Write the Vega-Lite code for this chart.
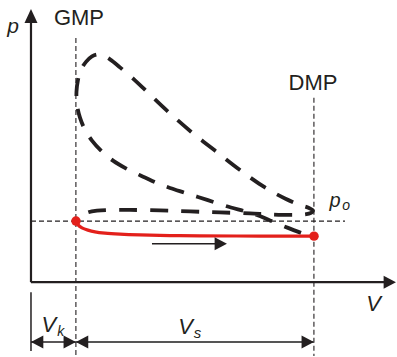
{
  "$schema": "https://vega.github.io/schema/vega-lite/v6.json",
  "width": 397,
  "height": 357,
  "autosize": {"type": "fit", "contains": "padding"},
  "padding": 0,
  "background": "white",
  "config": {"view": {"stroke": null}},
  "encoding": {
    "x": {"field": "V", "type": "quantitative", "scale": {"domain": [-6.9, 81.5], "nice": false, "zero": false}, "axis": null},
    "y": {"field": "p", "type": "quantitative", "scale": {"domain": [-12.07, 46.17], "nice": false, "zero": false}, "axis": null}
  },
  "layer": [
    {
      "description": "thin dashed guides: GMP, DMP and ambient pressure p_o",
      "data": {"values": [
        {"V": 10, "p": 39.97, "V2": 10, "p2": -12.07},
        {"V": 63, "p": 30.18, "V2": 63, "p2": -12.07},
        {"V": 0, "p": 10, "V2": 69.92, "p2": 10}
      ]},
      "mark": {"type": "rule", "color": "#231f20", "strokeWidth": 1.1, "strokeDash": [5, 3]},
      "encoding": {"x2": {"field": "V2"}, "y2": {"field": "p2"}}
    },
    {
      "description": "p and V axes",
      "data": {"values": [
        {"V": 0, "p": 0, "V2": 0, "p2": 42.6},
        {"V": 0, "p": 0, "V2": 78.9, "p2": 0}
      ]},
      "mark": {"type": "rule", "color": "#231f20", "strokeWidth": 2.2},
      "encoding": {"x2": {"field": "V2"}, "y2": {"field": "p2"}}
    },
    {
      "description": "dimension tick, V_k span and flow direction arrow",
      "data": {"values": [
        {"V": 0, "p": -1.63, "V2": 0, "p2": -11.26},
        {"V": 0, "p": -9.79, "V2": 10, "p2": -9.79},
        {"V": 26.94, "p": 6.31, "V2": 41.4, "p2": 6.31}
      ]},
      "mark": {"type": "rule", "color": "#231f20", "strokeWidth": 1.5},
      "encoding": {"x2": {"field": "V2"}, "y2": {"field": "p2"}}
    },
    {
      "description": "V_s span",
      "data": {"values": [
        {"V": 10, "p": -9.79, "V2": 63, "p2": -9.79}
      ]},
      "mark": {"type": "rule", "color": "#555555", "strokeWidth": 2},
      "encoding": {"x2": {"field": "V2"}, "y2": {"field": "p2"}}
    },
    {
      "description": "compression, combustion, expansion and exhaust",
      "data": {"values": [
        {"i": 0, "V": 60.12, "p": 8.07},
        {"i": 1, "V": 57.23, "p": 8.89},
        {"i": 2, "V": 53.22, "p": 10.11},
        {"i": 3, "V": 50.32, "p": 11.01},
        {"i": 4, "V": 47.43, "p": 11.66},
        {"i": 5, "V": 44.53, "p": 12.23},
        {"i": 6, "V": 40.97, "p": 13.05},
        {"i": 7, "V": 37.19, "p": 13.95},
        {"i": 8, "V": 34.07, "p": 14.68},
        {"i": 9, "V": 30.95, "p": 15.42},
        {"i": 10, "V": 28.06, "p": 16.23},
        {"i": 11, "V": 25.38, "p": 17.13},
        {"i": 12, "V": 22.04, "p": 18.27},
        {"i": 13, "V": 18.26, "p": 19.9},
        {"i": 14, "V": 15.59, "p": 21.53},
        {"i": 15, "V": 13.58, "p": 23.16},
        {"i": 16, "V": 12.02, "p": 24.96},
        {"i": 17, "V": 10.91, "p": 26.92},
        {"i": 18, "V": 10.24, "p": 29.04},
        {"i": 19, "V": 10.13, "p": 31.16},
        {"i": 20, "V": 10.47, "p": 33.12},
        {"i": 21, "V": 11.13, "p": 34.75},
        {"i": 22, "V": 12.25, "p": 36.05},
        {"i": 23, "V": 13.58, "p": 36.95},
        {"i": 24, "V": 14.92, "p": 37.28},
        {"i": 25, "V": 16.25, "p": 37.03},
        {"i": 26, "V": 17.59, "p": 36.46},
        {"i": 27, "V": 19.82, "p": 35.15},
        {"i": 28, "V": 23.16, "p": 33.03},
        {"i": 29, "V": 25.83, "p": 31.16},
        {"i": 30, "V": 30.28, "p": 28.06},
        {"i": 31, "V": 35.63, "p": 24.63},
        {"i": 32, "V": 40.97, "p": 21.53},
        {"i": 33, "V": 46.54, "p": 18.35},
        {"i": 34, "V": 52.1, "p": 15.5},
        {"i": 35, "V": 56.56, "p": 13.7},
        {"i": 36, "V": 59.9, "p": 12.64},
        {"i": 37, "V": 61.9, "p": 12.15},
        {"i": 38, "V": 62.79, "p": 11.75},
        {"i": 39, "V": 62.35, "p": 11.34},
        {"i": 40, "V": 60.79, "p": 11.09},
        {"i": 41, "V": 57.67, "p": 11.01},
        {"i": 42, "V": 53.22, "p": 11.09},
        {"i": 43, "V": 48.76, "p": 11.26},
        {"i": 44, "V": 42.08, "p": 11.42},
        {"i": 45, "V": 35.4, "p": 11.58},
        {"i": 46, "V": 28.72, "p": 11.75},
        {"i": 47, "V": 22.04, "p": 11.83},
        {"i": 48, "V": 17.59, "p": 11.83},
        {"i": 49, "V": 14.7, "p": 11.7},
        {"i": 50, "V": 12.69, "p": 11.42},
        {"i": 51, "V": 11.36, "p": 10.93},
        {"i": 52, "V": 10.58, "p": 10.44},
        {"i": 53, "V": 10.02, "p": 10.0}
      ]},
      "mark": {"type": "line", "color": "#231f20", "strokeWidth": 3.8, "strokeDash": [18, 13], "interpolate": "catmull-rom"},
      "encoding": {"order": {"field": "i", "type": "quantitative"}}
    },
    {
      "description": "intake stroke",
      "data": {"values": [
        {"i": 0, "V": 10.02, "p": 10.0},
        {"i": 1, "V": 10.47, "p": 9.38},
        {"i": 2, "V": 11.36, "p": 8.89},
        {"i": 3, "V": 12.69, "p": 8.52},
        {"i": 4, "V": 14.25, "p": 8.24},
        {"i": 5, "V": 16.48, "p": 8.03},
        {"i": 6, "V": 19.82, "p": 7.86},
        {"i": 7, "V": 24.27, "p": 7.73},
        {"i": 8, "V": 30.95, "p": 7.63},
        {"i": 9, "V": 37.63, "p": 7.59},
        {"i": 10, "V": 50.99, "p": 7.55},
        {"i": 11, "V": 63.02, "p": 7.54}
      ]},
      "mark": {"type": "line", "color": "#e3201b", "strokeWidth": 3.2, "interpolate": "catmull-rom"},
      "encoding": {"order": {"field": "i", "type": "quantitative"}}
    },
    {
      "description": "intake start and end points",
      "data": {"values": [
        {"V": 10.02, "p": 10.0},
        {"V": 63.02, "p": 7.54}
      ]},
      "mark": {"type": "point", "shape": "circle", "filled": true, "opacity": 1, "color": "#e3201b", "size": 90}
    },
    {
      "description": "arrowheads pointing right (tip at the data point)",
      "data": {"values": [
        {"V": 81.27, "p": 0},
        {"V": 10, "p": -9.79},
        {"V": 63, "p": -9.79},
        {"V": 43.64, "p": 6.31}
      ]},
      "mark": {"type": "point", "shape": "M0,0L-1.9,-1L-1.9,1Z", "filled": true, "opacity": 1, "color": "#231f20", "size": 169, "strokeWidth": 0}
    },
    {
      "description": "arrowheads pointing left",
      "data": {"values": [
        {"V": 0, "p": -9.79},
        {"V": 10, "p": -9.79}
      ]},
      "mark": {"type": "point", "shape": "M0,0L1.9,-1L1.9,1Z", "filled": true, "opacity": 1, "color": "#231f20", "size": 169, "strokeWidth": 0}
    },
    {
      "description": "arrowhead of the p axis",
      "data": {"values": [
        {"V": 0, "p": 44.7}
      ]},
      "mark": {"type": "point", "shape": "M0,0L-1,2.15L1,2.15Z", "filled": true, "opacity": 1, "color": "#231f20", "size": 169, "strokeWidth": 0}
    },
    {
      "description": "dead centre labels",
      "data": {"values": [
        {"t": "GMP", "V": 10.69, "p": 42.09, "fs": 22},
        {"t": "DMP", "V": 62.79, "p": 31.48, "fs": 22}
      ]},
      "mark": {"type": "text", "font": "Liberation Sans", "align": "center", "baseline": "alphabetic", "color": "#231f20"},
      "encoding": {"text": {"field": "t", "type": "nominal"}, "size": {"field": "fs", "type": "quantitative", "scale": null}}
    },
    {
      "description": "symbols in italics",
      "data": {"values": [
        {"t": "p", "V": -4.01, "p": 40.78, "fs": 21},
        {"t": "p", "V": 67.69, "p": 12.32, "fs": 20},
        {"t": "o", "V": 70.2, "p": 11.75, "fs": 14},
        {"t": "V", "V": 76.27, "p": -4.73, "fs": 22},
        {"t": "V", "V": 4.0, "p": -8.16, "fs": 22},
        {"t": "k", "V": 6.6, "p": -8.81, "fs": 14},
        {"t": "V", "V": 34.4, "p": -8.48, "fs": 22},
        {"t": "s", "V": 37.1, "p": -9.14, "fs": 15}
      ]},
      "mark": {"type": "text", "font": "Liberation Sans", "fontStyle": "italic", "align": "center", "baseline": "alphabetic", "color": "#231f20"},
      "encoding": {"text": {"field": "t", "type": "nominal"}, "size": {"field": "fs", "type": "quantitative", "scale": null}}
    }
  ]
}
